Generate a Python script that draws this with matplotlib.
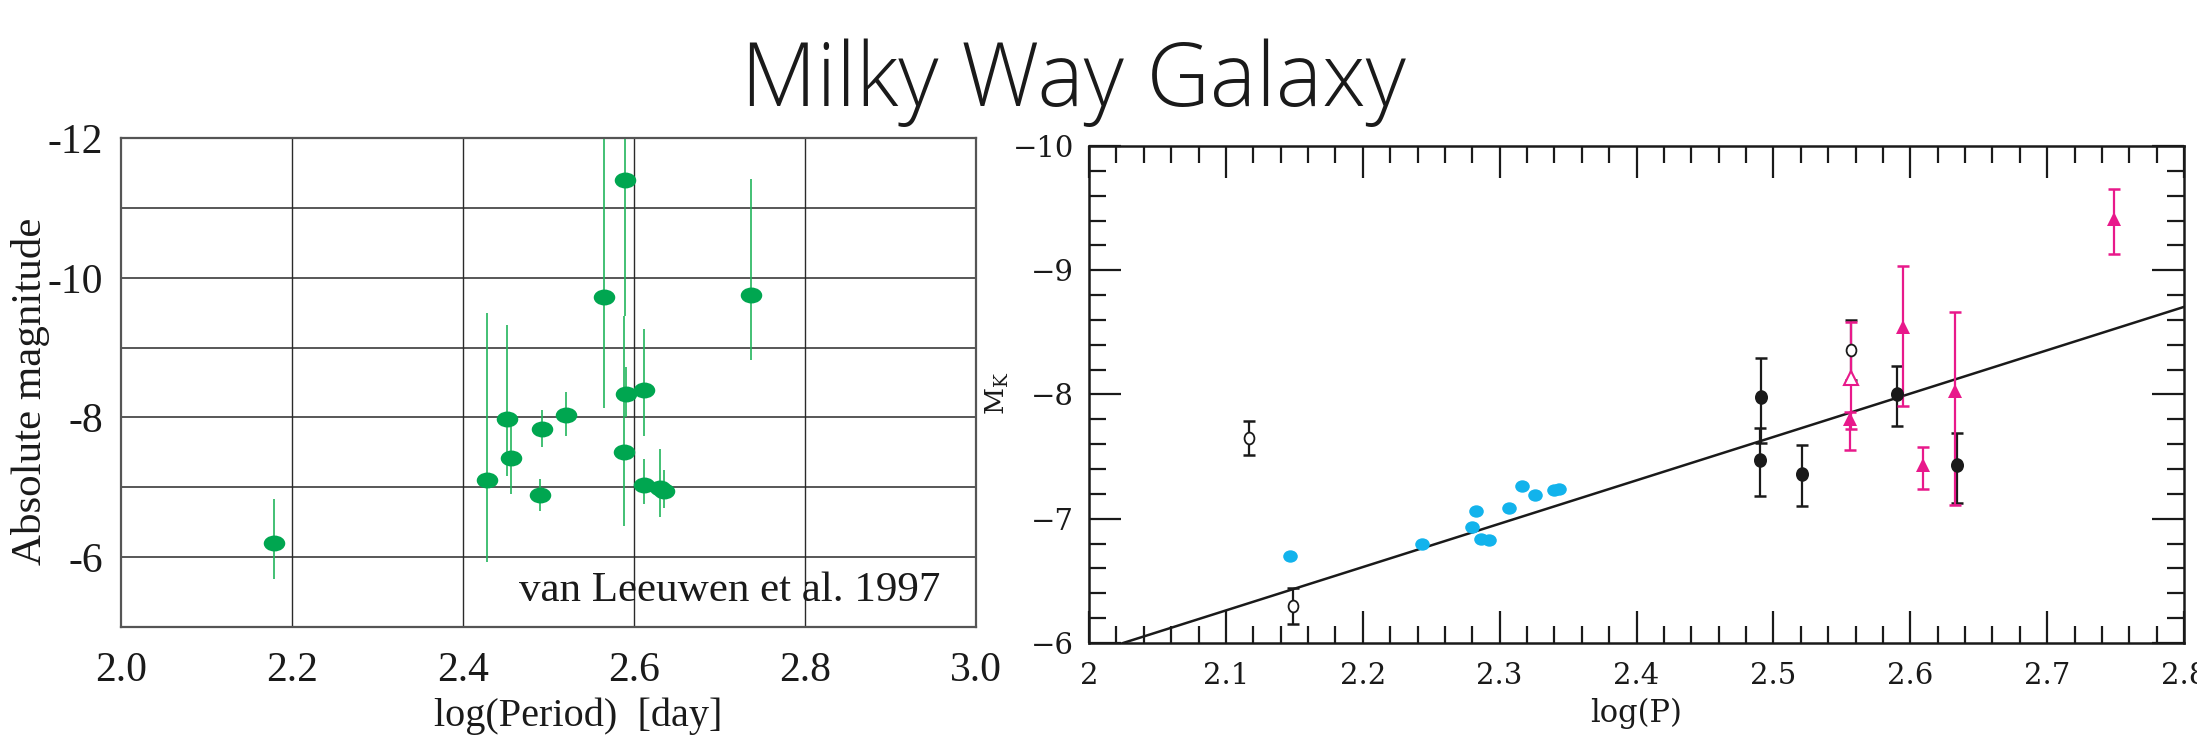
import numpy as np
import matplotlib
matplotlib.use("Agg")
import matplotlib.pyplot as plt
from matplotlib.path import Path
from matplotlib.ticker import MultipleLocator, FixedLocator

# ---------------- data: left panel (van Leeuwen et al. 1997) ----------------
left_logp = [2.179, 2.428, 2.451, 2.456, 2.490, 2.492, 2.521, 2.565,
             2.590, 2.591, 2.588, 2.612, 2.612, 2.630, 2.635, 2.737]
left_mag = [-6.20, -7.10, -7.98, -7.42, -6.89, -7.84, -8.04, -9.72,
            -11.40, -8.34, -7.51, -8.39, -7.03, -6.99, -6.95, -9.75]
left_bar_bright = [-6.83, -9.50, -9.32, -7.92, -7.12, -8.10, -8.37, -12.8,
                   -13.5, -8.72, -9.45, -9.27, -7.40, -7.55, -7.25, -11.42]
left_bar_faint = [-5.69, -5.93, -7.16, -6.90, -6.66, -7.58, -7.73, -8.14,
                  -9.45, -8.00, -6.44, -7.74, -6.76, -6.57, -6.70, -8.83]
left_xticks = [2.0, 2.2, 2.4, 2.6, 2.8, 3.0]
left_xticklabels = ["2.0", "2.2", "2.4", "2.6", "2.8", "3.0"]
left_yticks = [-12, -10, -8, -6]
left_yticklabels = ["-12", "-10", "-8", "-6"]

# ---------------- data: right panel ----------------
cyan_logp = [2.147, 2.243, 2.280, 2.283, 2.286, 2.292, 2.307, 2.316, 2.326, 2.340, 2.343]
cyan_mk = [-6.70, -6.80, -6.93, -7.06, -6.84, -6.83, -7.09, -7.26, -7.19, -7.23, -7.24]

open_logp = [2.117, 2.149, 2.557]
open_mk = [-7.65, -6.30, -8.36]
open_bright = [-7.79, -6.44, -8.60]
open_faint = [-7.51, -6.15, -8.12]

black_logp = [2.491, 2.490, 2.521, 2.590, 2.634]
black_mk = [-7.98, -7.47, -7.36, -8.00, -7.43]
black_bright = [-8.29, -7.73, -7.59, -8.23, -7.69]
black_faint = [-7.61, -7.18, -7.10, -7.75, -7.13]

mag_logp = [2.556, 2.595, 2.609, 2.633, 2.749]
mag_mk = [-7.80, -8.54, -7.43, -8.03, -9.41]
mag_bright = [-7.86, -9.03, -7.58, -8.66, -9.65]
mag_faint = [-7.55, -7.91, -7.24, -7.11, -9.13]

magopen_logp = [2.557]
magopen_mk = [-8.13]
magopen_bright = [-8.58]
magopen_faint = [-7.72]

fit_slope = -3.49
fit_intercept = 1.067

right_xticks = [2.0, 2.1, 2.2, 2.3, 2.4, 2.5, 2.6, 2.7, 2.8]
right_xticklabels = ["2", "2.1", "2.2", "2.3", "2.4", "2.5", "2.6", "2.7", "2.8"]
right_yticks = [-10, -9, -8, -7, -6]
right_yticklabels = ["\u221210", "\u22129", "\u22128", "\u22127", "\u22126"]


def yerr_from(vals, bright, faint):
    v = np.asarray(vals)
    lo = np.minimum(bright, faint)
    hi = np.maximum(bright, faint)
    return [v - lo, hi - v]


def ellipse_marker(aspect):
    c = Path.unit_circle()
    verts = c.vertices * np.array([1.0, aspect])
    return Path(verts, c.codes)


fig = plt.figure(figsize=(21.97, 7.35), dpi=100)

# Title
fig.text(0.4884, 0.856, "Milky Way Galaxy", ha="center", va="baseline",
         fontsize=63, family="Open Sans", fontweight="light", color="#1a1a1a")

# ---------------- Left panel ----------------
serif = "Liberation Serif"
axL = fig.add_axes([0.0551, 0.1473, 0.4442 - 0.0551, 0.8117 - 0.1473])
axL.set_xlim(2.0, 3.0)
axL.set_ylim(-5.0, -12.0)
axL.xaxis.set_major_locator(FixedLocator(left_xticks))
axL.set_xticklabels(left_xticklabels)
axL.yaxis.set_major_locator(FixedLocator(left_yticks))
axL.set_yticklabels(left_yticklabels)
for gx in [2.2, 2.4, 2.6, 2.8]:
    axL.axvline(gx, color="#2a2a2a", lw=1.0, zorder=0)
for gy in [-6, -7, -8, -9, -10, -11]:
    axL.axhline(gy, color="#2a2a2a", lw=1.1, zorder=0)
for s in axL.spines.values():
    s.set_color("#555555")
    s.set_linewidth(1.6)
axL.tick_params(axis="both", direction="in", length=0, labelsize=30,
                colors="#1a1a1a")
axL.tick_params(axis="x", pad=18)
axL.tick_params(axis="y", pad=13)
for lab in axL.get_xticklabels() + axL.get_yticklabels():
    lab.set_family(serif)

axL.errorbar(left_logp, left_mag, yerr=yerr_from(left_mag, left_bar_bright, left_bar_faint),
             fmt="none", ecolor="#22b55c", elinewidth=1.2, capsize=0, zorder=2)
axL.plot(left_logp, left_mag, linestyle="none", marker=ellipse_marker(0.74),
         markersize=15.5, color="#00a650", markeredgewidth=0, zorder=3)

axL.text(0.959, 0.053, "van Leeuwen et al. 1997", transform=axL.transAxes,
         ha="right", va="baseline", family=serif, fontsize=31, color="#1a1a1a")

fig.text(0.014, 0.467, "Absolute magnitude", rotation=90, ha="center", va="center",
         family=serif, fontsize=31, color="#1a1a1a")
fig.text(0.263, 0.026, "log(Period)  [day]", ha="center", va="center",
         family=serif, fontsize=29, color="#1a1a1a")

# ---------------- Right panel ----------------
rfont = "DejaVu Serif"
plt.rcParams["mathtext.fontset"] = "dejavuserif"
axR = fig.add_axes([0.4957, 0.1252, 0.9941 - 0.4957, 0.8014 - 0.1252])
axR.set_xlim(2.0, 2.8)
axR.set_ylim(-6.0, -10.0)
axR.xaxis.set_major_locator(FixedLocator(right_xticks))
axR.set_xticklabels(right_xticklabels)
axR.xaxis.set_minor_locator(MultipleLocator(0.02))
axR.yaxis.set_major_locator(FixedLocator(right_yticks))
axR.set_yticklabels(right_yticklabels)
axR.yaxis.set_minor_locator(MultipleLocator(0.2))
for s in axR.spines.values():
    s.set_color("#1a1a1a")
    s.set_linewidth(1.8)
axR.tick_params(which="both", direction="in", top=True, right=True,
                colors="#1a1a1a", width=1.6)
axR.tick_params(which="major", length=23, labelsize=21)
axR.tick_params(which="minor", length=12)
axR.tick_params(axis="x", which="major", pad=14)
axR.tick_params(axis="y", which="major", pad=11)
for lab in axR.get_xticklabels() + axR.get_yticklabels():
    lab.set_family(rfont)

# fit line
axR.axline((2.0, fit_intercept + fit_slope * 2.0), slope=fit_slope,
           color="#1a1a1a", lw=1.8, zorder=2)

ek = dict(fmt="none", elinewidth=1.6, capsize=4.5, capthick=1.8, zorder=3)
axR.errorbar(open_logp, open_mk, yerr=yerr_from(open_mk, open_bright, open_faint),
             ecolor="#1a1a1a", **ek)
axR.errorbar(black_logp, black_mk, yerr=yerr_from(black_mk, black_bright, black_faint),
             ecolor="#1a1a1a", **ek)
axR.errorbar(magopen_logp, magopen_mk,
             yerr=yerr_from(magopen_mk, magopen_bright, magopen_faint),
             ecolor="#e8198b", **ek)
axR.errorbar(mag_logp, mag_mk, yerr=yerr_from(mag_mk, mag_bright, mag_faint),
             ecolor="#e8198b", **ek)

axR.plot(cyan_logp, cyan_mk, linestyle="none", marker=ellipse_marker(0.85),
         markersize=10.5, color="#12b3ec", markeredgewidth=0, zorder=4)
axR.plot(black_logp, black_mk, linestyle="none", marker=ellipse_marker(1.12),
         markersize=10.5, color="#1a1a1a", markeredgewidth=0, zorder=4)
axR.plot(open_logp, open_mk, linestyle="none", marker=ellipse_marker(1.2),
         markersize=8.5, markerfacecolor="white", markeredgecolor="#1a1a1a",
         markeredgewidth=1.3, zorder=4)
axR.plot(mag_logp, mag_mk, linestyle="none", marker="^", markersize=10.5,
         color="#e8198b", markeredgewidth=0, zorder=4)
axR.plot(magopen_logp, magopen_mk, linestyle="none", marker="^", markersize=9.5,
         markerfacecolor="white", markeredgecolor="#e8198b", markeredgewidth=1.5, zorder=4)

fig.text(0.7446, 0.030, "log(P)", ha="center", va="center", family=rfont,
         fontsize=22, color="#1a1a1a")
fig.text(0.4538, 0.4653, r"$\mathrm{M_K}$", rotation=90, ha="center", va="center",
         fontsize=19, color="#1a1a1a")

fig.savefig("out.png", dpi=100)
